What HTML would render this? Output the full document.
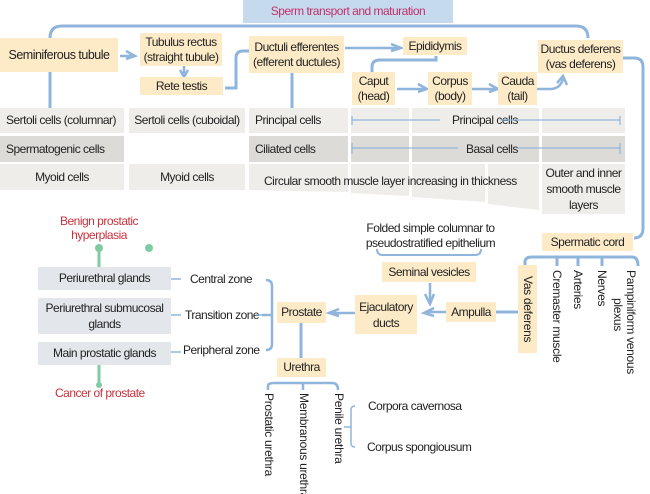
<!DOCTYPE html>
<html style="width:650px;height:494px;overflow:hidden"><head><meta charset="utf-8"><style>
body{margin:0;width:650px;height:494px;background:#fff;position:relative;overflow:hidden;font-family:"Liberation Sans",sans-serif;font-size:12px;color:#222;letter-spacing:-0.5px}
.b{position:absolute;display:flex;align-items:center;justify-content:center;text-align:center;line-height:15px;white-space:nowrap}
.o{background:#fdebc8}
.g1{background:#efedea}
.g2{background:#dddbd8}
.gb{background:#e3e6ea}
.t{position:absolute;white-space:nowrap;line-height:15px}
.v{position:absolute;writing-mode:vertical-rl;white-space:nowrap;line-height:14px;font-size:12px;letter-spacing:-0.3px}
.r{color:#c8323c}
svg{position:absolute;left:0;top:0}
</style></head><body>
<div class="b g1" style="left:0px;top:108px;width:124px;height:25px;justify-content:flex-start;padding-left:6px;box-sizing:border-box">Sertoli cells (columnar)</div>
<div class="b g1" style="left:129px;top:108px;width:116px;height:25px">Sertoli cells (cuboidal)</div>
<div class="b g1" style="left:249px;top:108px;width:99px;height:25px;justify-content:flex-start;padding-left:6px;box-sizing:border-box">Principal cells</div>
<div class="b g1" style="left:351px;top:108px;width:58px;height:25px"></div>
<div class="b g1" style="left:412px;top:108px;width:73px;height:25px"></div>
<div class="b g1" style="left:488px;top:108px;width:51px;height:25px"></div>
<div class="b g1" style="left:542px;top:108px;width:83px;height:25px"></div>
<div class="b g2" style="left:0px;top:136px;width:124px;height:26px;justify-content:flex-start;padding-left:6px;box-sizing:border-box">Spermatogenic cells</div>
<div class="b g2" style="left:249px;top:136px;width:99px;height:26px;justify-content:flex-start;padding-left:6px;box-sizing:border-box">Ciliated cells</div>
<div class="b g2" style="left:351px;top:136px;width:58px;height:26px"></div>
<div class="b g2" style="left:412px;top:136px;width:73px;height:26px"></div>
<div class="b g2" style="left:488px;top:136px;width:51px;height:26px"></div>
<div class="b g2" style="left:542px;top:136px;width:83px;height:26px"></div>
<div class="b g1" style="left:0px;top:164px;width:124px;height:26px">Myoid cells</div>
<div class="b g1" style="left:129px;top:164px;width:116px;height:26px">Myoid cells</div>
<svg width="650" height="494" style="z-index:0">
<polygon points="249,164 348,164 348,192 249,190" fill="#efedea"/>
<polygon points="351,164 409,164 409,196 351,193" fill="#efedea"/>
<polygon points="412,164 485,164 485,202 412,197" fill="#efedea"/>
<polygon points="488,164 539,164 539,210 488,204" fill="#efedea"/>
<rect x="542" y="164" width="83" height="50" fill="#efedea"/>
</svg>
<div class="t" style="left:264px;top:174px">Circular smooth muscle layer increasing in thickness</div>
<div class="b" style="left:542px;top:164px;width:83px;height:50px;line-height:16px">Outer and inner<br>smooth muscle<br>layers</div>
<div class="t" style="left:448px;top:108px;height:25px;line-height:25px;background:#efedea;padding:0 4px">Principal cells</div>
<div class="t" style="left:462px;top:136px;height:26px;line-height:26px;background:#dddbd8;padding:0 4px">Basal cells</div>

<svg width="650" height="494" style="z-index:1" fill="none" stroke="#8fb5dc" stroke-width="3">
<path d="M50,38 Q50,26 62,26 L576,26 Q588,26 588,38"/>
<path d="M50,72 L50,108"/>
<path d="M120,56 L133,56 M126,51 L135,56 L126,59" stroke-width="2.5"/>
<path d="M184,66 L184,75 M180,70 L184,77 L188,70" stroke-width="2.5"/>
<path d="M225,88 L236,88 L236,58 Q236,51 243,51 L250,51" />
<path d="M292,73 L292,108"/>
<path d="M345,48 L398,48 M391,44 L401,48 L391,51" stroke-width="2.5"/>
<path d="M372,72 L372,67 Q372,60 380,60 L436,60 L436,56"/>
<path d="M397,89 L425,89 M418,84 L427,89 L418,92" stroke-width="2.5"/>
<path d="M472,89 L496,89 M489,84 L498,89 L489,92" stroke-width="2.5"/>
<path d="M537,89 L550,89 Q560,89 563,79 M557,83 L563,76 L567,85" stroke-width="2.5"/>
<path d="M623,58 L634,58 Q643,58 643,67 L643,228 Q643,238 634,238" />
<path d="M446,312 L428,312 M434,308 L424,313 L434,316" stroke-width="2.5"/>
<path d="M430,283 L430,302 M425,294 L430,304 L434,294" stroke-width="2.5"/>
<path d="M355,313 L333,313 M339,309 L329,313 L339,316" stroke-width="2.5"/>
<path d="M496,312 L518,312"/>
<path d="M301,323 L301,358"/>
<path d="M525,265 L525,262 Q525,257 532,257 L632,257 Q638,257 638,266"/>
<path d="M557,257 L557,266 M578,257 L578,266 M602,257 L602,266"/>
<path d="M377,249 Q377,255 383,255 L475,255 Q481,255 481,249" stroke-width="2"/>
<path d="M266,280 Q272,280 272,286 L272,344 Q272,350 266,350 M262,315 L272,315" stroke-width="2.5"/>
<path d="M268,390 L268,386 Q268,383 274,383 L332,383 Q338,383 338,390 M303,383 L303,390" stroke-width="2.5"/>
<path d="M355,406 Q351,406 351,410 L351,443 Q351,447 355,447 M344,427 L351,427" stroke-width="1.5"/>
<path d="M171,279 L181,279 M171,315 L181,315 M171,352 L181,352 M256,315 L266,315" stroke-width="1.5"/>
<path d="M352,116 L352,125 M352,120 L440,120 M500,120 L620,120 M620,116 L620,125" stroke-width="1.2"/>
<path d="M352,143 L352,154 M352,148 L458,148 M518,148 L620,148 M620,143 L620,154" stroke-width="1.2"/>
<path d="M99,248 L99,267 M99,365 L99,385" stroke="#7fcca2"/>
</svg>
<svg width="650" height="494" style="z-index:1"><circle cx="99" cy="248" r="4" fill="#7fcca2"/><circle cx="149" cy="248" r="4" fill="#7fcca2"/><circle cx="99" cy="385" r="3" fill="#7fcca2"/></svg>

<div class="b" style="left:243px;top:0;width:210px;height:23px;background:#c6daee;color:#c2306b;z-index:2">Sperm transport and maturation</div>
<div class="b o" style="left:0px;top:38px;width:118px;height:34px;z-index:2;font-size:12.5px">Seminiferous tubule</div>
<div class="b o" style="left:140px;top:33px;width:82px;height:33px;z-index:2">Tubulus rectus<br>(straight tubule)</div>
<div class="b o" style="left:140px;top:77px;width:83px;height:18px;z-index:2">Rete testis</div>
<div class="b o" style="left:249px;top:36px;width:95px;height:37px;z-index:2">Ductuli efferentes<br>(efferent ductules)</div>
<div class="b o" style="left:403px;top:37px;width:64px;height:18px;z-index:2">Epididymis</div>
<div class="b o" style="left:352px;top:72px;width:43px;height:33px;z-index:2">Caput<br>(head)</div>
<div class="b o" style="left:428px;top:72px;width:44px;height:33px;z-index:2">Corpus<br>(body)</div>
<div class="b o" style="left:498px;top:72px;width:39px;height:33px;z-index:2">Cauda<br>(tail)</div>
<div class="b o" style="left:538px;top:40px;width:85px;height:33px;z-index:2">Ductus deferens<br>(vas deferens)</div>
<div class="b o" style="left:542px;top:233px;width:91px;height:18px;z-index:2">Spermatic cord</div>
<div class="b o" style="left:518px;top:265px;width:19px;height:88px;writing-mode:vertical-rl;z-index:2;letter-spacing:-0.3px">Vas deferens</div>
<div class="v" style="left:550px;top:270px">Cremaster muscle</div>
<div class="v" style="left:571px;top:270px">Arteries</div>
<div class="v" style="left:595px;top:270px">Nerves</div>
<div class="v" style="left:611px;top:298px">plexus</div>
<div class="v" style="left:624px;top:270px">Pampiniform venous</div>
<div class="t" style="left:358px;top:221px;width:145px;text-align:center;line-height:15px">Folded simple columnar to<br>pseudostratified epithelium</div>
<div class="b o" style="left:382px;top:262px;width:94px;height:20px;z-index:2">Seminal vesicles</div>
<div class="b o" style="left:446px;top:302px;width:50px;height:20px;z-index:2">Ampulla</div>
<div class="b o" style="left:355px;top:295px;width:62px;height:39px;z-index:2;line-height:16px">Ejaculatory<br>ducts</div>
<div class="b o" style="left:277px;top:302px;width:49px;height:21px;z-index:2">Prostate</div>
<div class="b o" style="left:277px;top:358px;width:49px;height:19px;z-index:2">Urethra</div>
<div class="b gb" style="left:38px;top:267px;width:133px;height:23px">Periurethral glands</div>
<div class="b gb" style="left:38px;top:298px;width:133px;height:36px;line-height:16px">Periurethral submucosal<br>glands</div>
<div class="b gb" style="left:38px;top:342px;width:133px;height:23px">Main prostatic glands</div>
<div class="t" style="left:190px;top:272px">Central zone</div>
<div class="t" style="left:185px;top:308px">Transition zone</div>
<div class="t" style="left:183px;top:343px">Peripheral zone</div>
<div class="t r" style="left:49px;top:214px;width:100px;text-align:center;line-height:14px">Benign prostatic<br>hyperplasia</div>
<div class="t r" style="left:55px;top:386px">Cancer of prostate</div>
<div class="v" style="left:262px;top:393px">Prostatic urethra</div>
<div class="v" style="left:297px;top:393px">Membranous urethra</div>
<div class="v" style="left:332px;top:393px">Penile urethra</div>
<div class="t" style="left:368px;top:399px">Corpora cavernosa</div>
<div class="t" style="left:367px;top:440px">Corpus spongiousum</div>
</body></html>
